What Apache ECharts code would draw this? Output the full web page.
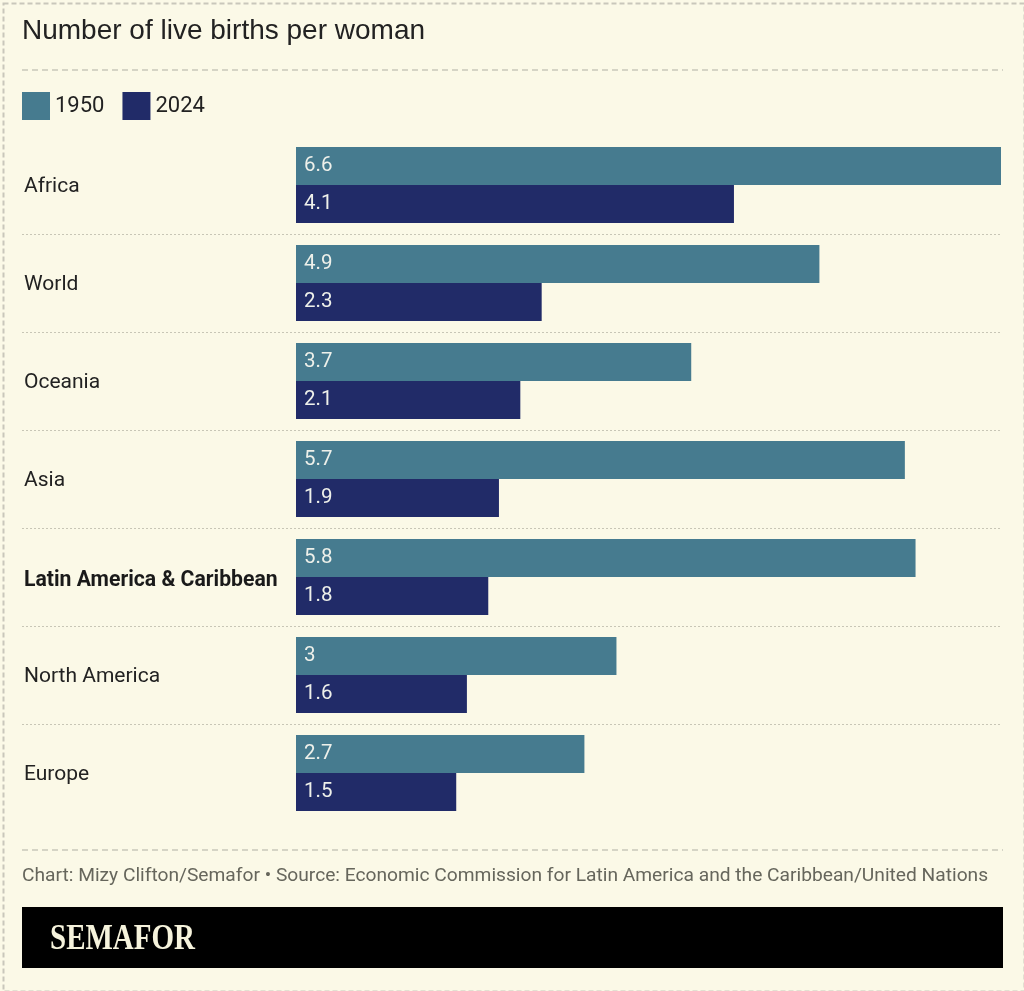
<!DOCTYPE html>
<html><head><meta charset="utf-8">
<script src="https://cdn.jsdelivr.net/npm/echarts@6/dist/echarts.min.js"></script>
<style>html,body{margin:0;padding:0;background:#fbf9e7;}#c{width:1024px;height:991px;}</style>
</head><body><div id="c"></div>
<script>
const categories = ['Africa','World','Oceania','Asia','Latin America & Caribbean','North America','Europe'];
const values1950 = [6.6, 4.9, 3.7, 5.7, 5.8, 3, 2.7];
const values2024 = [4.1, 2.3, 2.1, 1.9, 1.8, 1.6, 1.5];
const seriesNames = ['1950','2024'];
const highlight = 'Latin America & Caribbean';
const titleText = 'Number of live births per woman';
const sourceText = 'Chart: Mizy Clifton/Semafor \u2022 Source: Economic Commission for Latin America and the Caribbean/United Nations';

const BG = '#fbf9e7';
const chart = echarts.init(document.getElementById('c'), null, {renderer:'canvas'});
const labelStyle = {show:true, position:'insideLeft', distance:8, color:'#eef0ea', fontSize:20.5, fontFamily:'Roboto', padding:[5,0,0,0]};
const option = {
  backgroundColor: BG,
  animation:false,
  legend:{left:22, top:92, padding:0, itemWidth:28, itemHeight:28, itemGap:18, icon:'rect',
    textStyle:{fontSize:22, fontFamily:'Roboto', color:'#222', fontWeight:'normal', padding:[5,0,0,0]},
    data:seriesNames},
  grid:{left:296, right:23, top:136, bottom:169, containLabel:false},
  xAxis:{type:'value', min:0, max:6.6, show:false},
  yAxis:{type:'category', data:categories, inverse:true,
    axisLine:{show:false}, axisTick:{show:false}, splitLine:{show:false},
    axisLabel:{align:'left', margin:272, fontSize:21, fontFamily:'Roboto', color:'#222', padding:[4,0,0,0],
      formatter:(v)=> v===highlight ? '{b|'+v+'}' : v,
      rich:{b:{fontWeight:'bold', fontSize:21.2, fontFamily:'Roboto', color:'#1a1a1a', padding:[4,0,0,0]}}}},
  series:[
    {name:seriesNames[0], type:'bar', data:values1950, barWidth:38, barGap:'0%', itemStyle:{color:'#467b8f'}, label:labelStyle},
    {name:seriesNames[1], type:'bar', data:values2024, barWidth:38, barGap:'0%', itemStyle:{color:'#212b68'}, label:labelStyle}
  ]
};
chart.setOption(option);

// decorations derived from axis positions
const g = [];
g.push({type:'rect', left:1, top:1, shape:{width:1021, height:988}, style:{fill:'none', stroke:'#c9c7bb', lineWidth:2, lineDash:[5,3]}, silent:true});
g.push({type:'text', left:22, top:17, style:{text:titleText, fontSize:28, fontFamily:'Liberation Sans', fill:'#222'}});
g.push({type:'line', shape:{x1:22,y1:70,x2:1003,y2:70}, style:{stroke:'#c9c7bb', lineWidth:1.5, lineDash:[6,4]}});
for (let i=0;i<categories.length-1;i++){
  const a = chart.convertToPixel({yAxisIndex:0}, i);
  const b = chart.convertToPixel({yAxisIndex:0}, i+1);
  const y = Math.round((a+b)/2)+0.5;
  g.push({type:'line', shape:{x1:22,y1:y,x2:1001,y2:y}, style:{stroke:'#c8c6b6', lineWidth:1, lineDash:[2,2]}});
}
g.push({type:'line', shape:{x1:22,y1:850,x2:1003,y2:850}, style:{stroke:'#c9c7bb', lineWidth:1.5, lineDash:[6,4]}});
g.push({type:'text', left:22, top:867, style:{text:sourceText, fontSize:19.2, fontFamily:'Roboto', fill:'#66665c'}});
g.push({type:'rect', shape:{x:22,y:907,width:981,height:61}, style:{fill:'#000'}});
g.push({type:'text', x:50, y:922, scaleY:1.22, style:{text:'SEMAFOR', fontSize:29, fontWeight:'bold', fontFamily:'Liberation Serif', fill:'#f6f3dc'}});
chart.setOption({graphic:g});
</script></body></html>
